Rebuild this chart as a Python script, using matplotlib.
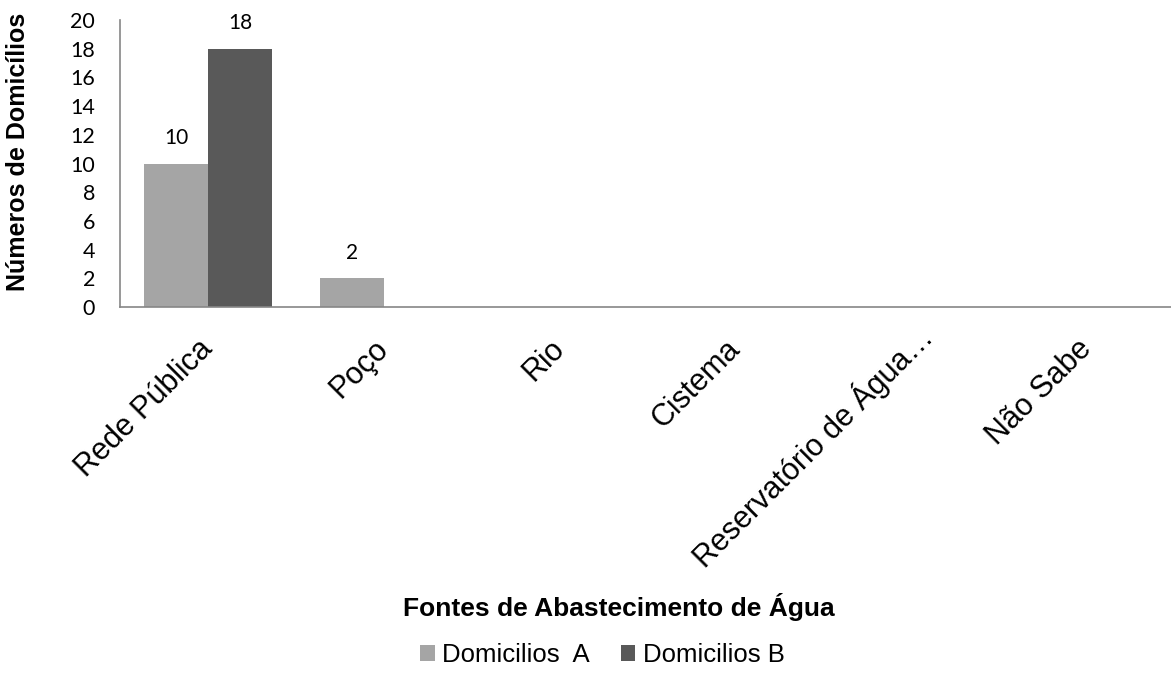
import matplotlib.pyplot as plt
import matplotlib.transforms as mtransforms
import numpy as np

# Water supply sources and household counts
fontes = ["Rede Pública", "Poço", "Rio", "Cistema", "Reservatório de Água…", "Não Sabe"]
domicilios_a = [10, 2, 0, 0, 0, 0]
domicilios_b = [18, 0, 0, 0, 0, 0]
series_names = ["Domicilios  A", "Domicilios B"]
y_ticks = list(range(0, 21, 2))

color_a = "#a5a5a5"
color_b = "#595959"
axis_color = "#868686"

fig = plt.figure(figsize=(11.71, 6.77), dpi=100)
# plot area runs slightly past the right edge of the figure
ax = fig.add_axes([120 / 1171, 370 / 677, 1055 / 1171, 287 / 677])

x = np.arange(len(fontes))
w = 0.364
bars_a = ax.bar(x - w / 2, domicilios_a, w, color=color_a, label=series_names[0])
bars_b = ax.bar(x + w / 2, domicilios_b, w, color=color_b, label=series_names[1])

# value labels only on non-empty bars
for bars, vals in ((bars_a, domicilios_a), (bars_b, domicilios_b)):
    for rect, v in zip(bars, vals):
        if v:
            ax.annotate(str(v), (rect.get_x() + rect.get_width() / 2, v),
                        xytext=(0, 18.5), textcoords="offset points",
                        ha="center", va="center", fontsize=15, family="Lato")

ax.set_xlim(-0.5, len(fontes) - 0.5)
ax.set_ylim(0, 20)
ax.set_yticks(y_ticks)
ax.set_yticklabels([str(t) for t in y_ticks], family="Lato", fontsize=15.5)
ax.tick_params(axis="y", length=0, pad=18)

ax.set_xticks(x)
ax.set_xticklabels(fontes, rotation=45, ha="right", va="center",
                   rotation_mode="anchor", family="Liberation Sans", fontsize=22)
ax.tick_params(axis="x", length=0, pad=27)

# the truncated label sits further along its own direction
shift = mtransforms.ScaledTranslation(12 / 72, 9 / 72, fig.dpi_scale_trans)
lbl = ax.get_xticklabels()[4]
lbl.set_transform(lbl.get_transform() + shift)

for side in ("top", "right"):
    ax.spines[side].set_visible(False)
for side in ("left", "bottom"):
    ax.spines[side].set_color(axis_color)
    ax.spines[side].set_linewidth(1.2)

ax.set_ylabel("Números de Domicílios", family="Liberation Sans", fontsize=18, fontweight="bold")
ax.yaxis.set_label_coords(-0.0853, 0.54)
ax.set_xlabel("Fontes de Abastecimento de Água", family="Liberation Sans", fontsize=19, fontweight="bold")
ax.xaxis.set_label_coords(0.473, -0.995)

fig.legend(handles=[bars_a, bars_b], labels=series_names, loc="center",
           bbox_to_anchor=(0.5145, 1 - 655 / 677), ncol=2, frameon=False,
           prop={"family": "Liberation Sans", "size": 18.5},
           handlelength=0.55, handleheight=0.55, handletextpad=0.3, columnspacing=1.2)

fig.savefig("out.png", dpi=100)
